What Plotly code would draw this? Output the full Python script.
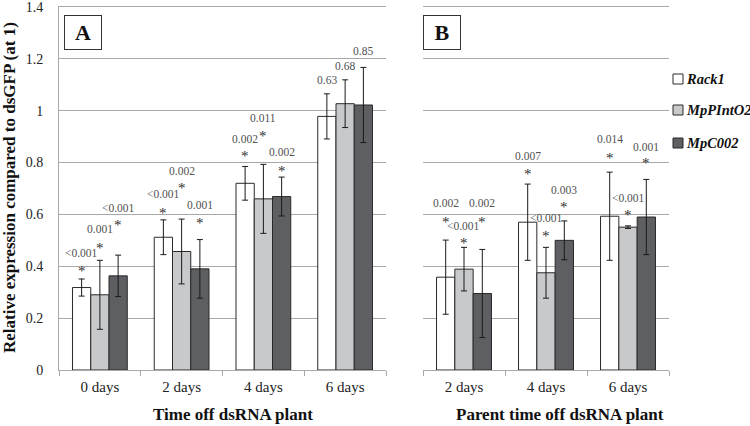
import plotly.graph_objects as go

# ---------------- data ----------------
series = ["Rack1", "MpPIntO2", "MpC002"]
cats_a = ["0 days", "2 days", "4 days", "6 days"]
cats_b = ["2 days", "4 days", "6 days"]
y_ticks = [0, 0.2, 0.4, 0.6, 0.8, 1.0, 1.2, 1.4]
y_tick_text = ["0", "0.2", "0.4", "0.6", "0.8", "1", "1.2", "1.4"]

vals_a = {
    "Rack1":    [0.318, 0.512, 0.720, 0.978],
    "MpPIntO2": [0.290, 0.457, 0.660, 1.027],
    "MpC002":   [0.363, 0.390, 0.669, 1.022],
}
err_a = {
    "Rack1":    [0.033, 0.067, 0.065, 0.087],
    "MpPIntO2": [0.133, 0.125, 0.133, 0.092],
    "MpC002":   [0.080, 0.113, 0.075, 0.145],
}
vals_b = {
    "Rack1":    [0.358, 0.570, 0.593],
    "MpPIntO2": [0.389, 0.375, 0.551],
    "MpC002":   [0.295, 0.500, 0.590],
}
err_b = {
    "Rack1":    [0.143, 0.147, 0.170],
    "MpPIntO2": [0.084, 0.098, 0.005],
    "MpC002":   [0.170, 0.075, 0.145],
}
# p-value labels (per series, per category) and whether significant (*)
p_a = {
    "Rack1":    ["<0.001", "<0.001", "0.002", "0.63"],
    "MpPIntO2": ["0.001", "0.002", "0.011", "0.68"],
    "MpC002":   ["<0.001", "0.001", "0.002", "0.85"],
}
sig_a = [True, True, True, False]
p_b = {
    "Rack1":    ["0.002", "0.007", "0.014"],
    "MpPIntO2": ["<0.001", "<0.001", "<0.001"],
    "MpC002":   ["0.002", "0.003", "0.001"],
}
sig_b = [True, True, True]

# label placement (y in data units)
lab_y_a = {
    "Rack1":    [0.452, 0.680, 0.892, 1.120],
    "MpPIntO2": [0.544, 0.768, 0.973, 1.174],
    "MpC002":   [0.625, 0.637, 0.842, 1.232],
}
star_y_a = {
    "Rack1":    [0.394, 0.618, 0.838, None],
    "MpPIntO2": [0.483, 0.714, 0.915, None],
    "MpC002":   [0.571, 0.579, 0.780, None],
}
lab_y_b = {
    "Rack1":    [0.645, 0.826, 0.892],
    "MpPIntO2": [0.556, 0.587, 0.664],
    "MpC002":   [0.645, 0.695, 0.861],
}
star_y_b = {
    "Rack1":    [0.583, 0.768, 0.830],
    "MpPIntO2": [0.502, 0.529, 0.610],
    "MpC002":   [0.583, 0.641, 0.811],
}

colors = {"Rack1": "#ffffff", "MpPIntO2": "#c8c9cb", "MpC002": "#5e5f63"}
SERIF = "'Liberation Serif', 'Times New Roman', serif"
BARGAP = 0.33
W, H = 750, 426

def px(x):
    return x / W

def py(y):
    return 1 - y / H

fig = go.Figure()
for s in series:
    fig.add_trace(go.Bar(
        x=cats_a, y=vals_a[s], name=s, legendgroup=s, showlegend=False,
        marker=dict(color=colors[s], line=dict(color="#2a2a2a", width=1)),
        error_y=dict(type="data", array=err_a[s], color="#1a1a1a", thickness=1, width=3),
        xaxis="x", yaxis="y",
    ))
for s in series:
    fig.add_trace(go.Bar(
        x=cats_b, y=vals_b[s], name=s, legendgroup=s, showlegend=False,
        marker=dict(color=colors[s], line=dict(color="#2a2a2a", width=1)),
        error_y=dict(type="data", array=err_b[s], color="#1a1a1a", thickness=1, width=3),
        xaxis="x2", yaxis="y2",
    ))

annotations = []
shapes = []
barw = (1 - BARGAP) / 3
label_font = dict(family=SERIF, size=11.5, color="#505050")
star_font = dict(family=SERIF, size=15, color="#303030")

def add_labels(cats, p, sig, lab_y, star_y, xref, yref):
    for i, s in enumerate(series):
        for j, c in enumerate(cats):
            xpos = j + (i - 1) * barw
            annotations.append(dict(x=xpos, y=lab_y[s][j], xref=xref, yref=yref,
                                    text=p[s][j], showarrow=False, font=label_font,
                                    xanchor="center", yanchor="middle"))
            if sig[j] and star_y[s][j] is not None:
                annotations.append(dict(x=xpos, y=star_y[s][j], xref=xref, yref=yref,
                                        text="*", showarrow=False, font=star_font,
                                        xanchor="center", yanchor="middle", yshift=-3))

add_labels(cats_a, p_a, sig_a, lab_y_a, star_y_a, "x", "y")
add_labels(cats_b, p_b, sig_b, lab_y_b, star_y_b, "x2", "y2")

# Legend (drawn as key squares + labels)
legend_rows = [79, 110, 143]
for s, yr in zip(series, legend_rows):
    shapes.append(dict(type="rect", xref="paper", yref="paper",
                       x0=px(673), x1=px(683), y0=py(yr + 5), y1=py(yr - 5),
                       fillcolor=colors[s], line=dict(color="#2a2a2a", width=1)))
    annotations.append(dict(x=px(684), y=py(yr), xref="paper", yref="paper",
                            text=f"<b><i>{s}</i></b>", showarrow=False,
                            font=dict(family=SERIF, size=14.5, color="#111111"),
                            xanchor="left", yanchor="middle"))

# Panel letters
for letter, xc in [("A", 83), ("B", 441.5)]:
    annotations.append(dict(x=px(xc), y=py(32.5), xref="paper", yref="paper",
                            text=f"<b>{letter}</b>", showarrow=False,
                            font=dict(family=SERIF, size=22, color="#111111"),
                            bordercolor="#333333", borderwidth=1, bgcolor="white",
                            borderpad=0, width=36, height=33,
                            xanchor="center", yanchor="middle"))
# x axis titles
annotations.append(dict(x=px(233), y=py(414), xref="paper", yref="paper",
                        text="<b>Time off dsRNA plant</b>", showarrow=False,
                        font=dict(family=SERIF, size=17, color="#111111"),
                        xanchor="center", yanchor="middle"))
annotations.append(dict(x=px(560), y=py(414), xref="paper", yref="paper",
                        text="<b>Parent time off dsRNA plant</b>", showarrow=False,
                        font=dict(family=SERIF, size=17, color="#111111"),
                        xanchor="center", yanchor="middle"))
# y axis title
annotations.append(dict(x=px(10), y=py(188), xref="paper", yref="paper",
                        text="<b>Relative expression compared to dsGFP (at 1)</b>",
                        showarrow=False, textangle=-90,
                        font=dict(family=SERIF, size=17, color="#111111"),
                        xanchor="center", yanchor="middle"))

YMAX = 1.404
ydom = [py(370), py(370 - YMAX * 259.3)]
grid = "#a8a8a8"
common_x = dict(type="category", showline=True, linecolor=grid, linewidth=1,
                ticks="outside", tickson="boundaries", ticklen=5, tickcolor=grid,
                ticklabelstandoff=3,
                tickfont=dict(family=SERIF, size=15, color="#222222"),
                showgrid=False, zeroline=False, fixedrange=True)
fig.update_layout(
    width=W, height=H, autosize=False,
    margin=dict(l=0, r=0, t=0, b=0, autoexpand=False),
    paper_bgcolor="white", plot_bgcolor="white",
    barmode="group", bargap=BARGAP, bargroupgap=0,
    xaxis=dict(domain=[px(59), px(386)], anchor="y", **common_x),
    xaxis2=dict(domain=[px(423), px(669)], anchor="y2", **common_x),
    yaxis=dict(domain=ydom, anchor="x", range=[0, YMAX],
               tickmode="array", tickvals=y_ticks, ticktext=y_tick_text,
               showgrid=True, gridcolor=grid, gridwidth=1,
               showline=True, linecolor=grid, linewidth=1, zeroline=False,
               ticks="", ticklabelstandoff=12, fixedrange=True,
               ticklabeloverflow="allow",
               tickfont=dict(family=SERIF, size=14, color="#222222")),
    yaxis2=dict(domain=ydom, anchor="x2", range=[0, YMAX],
                tickmode="array", tickvals=y_ticks,
                showgrid=True, gridcolor=grid, gridwidth=1, fixedrange=True,
                showline=False, zeroline=False, showticklabels=False, ticks=""),
    annotations=annotations,
    shapes=shapes,
    showlegend=False,
)

fig.write_html("out.html",
               config={"displayModeBar": False},
               post_script="document.body.style.margin='0px';"
                           "document.body.style.overflow='hidden';")
